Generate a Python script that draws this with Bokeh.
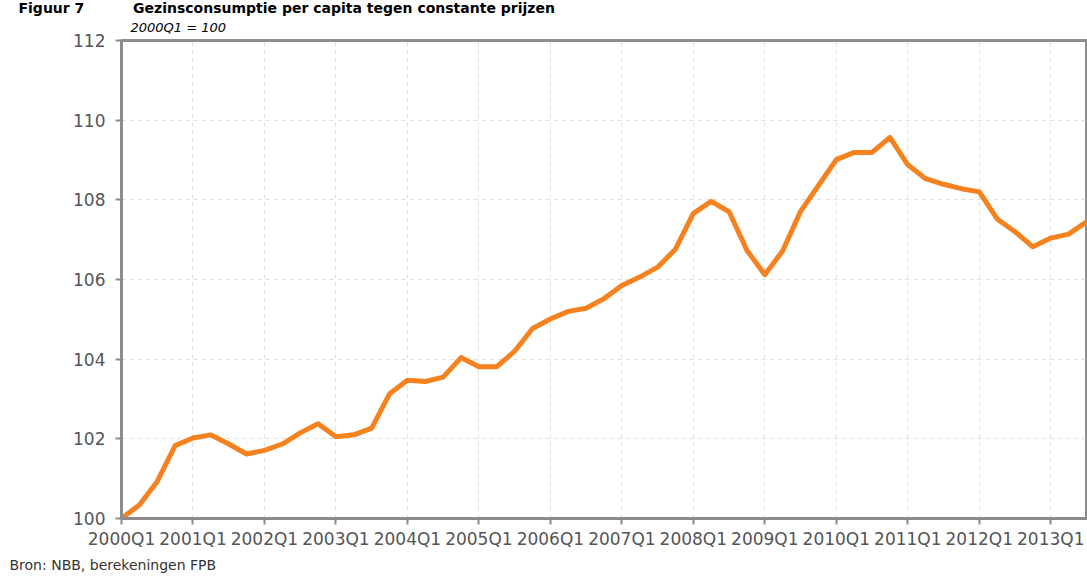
from bokeh.plotting import figure
from bokeh.models import Range1d, FixedTicker, Title
from bokeh.embed import file_html
from bokeh.resources import INLINE

# Quarterly household consumption per capita, constant prices (2000Q1 = 100)
quarters = [f"{y}Q{q}" for y in range(2000, 2014) for q in range(1, 5)][:55]
values = [
    100.00, 100.34, 100.93, 101.83,   # 2000
    102.02, 102.10, 101.87, 101.62,   # 2001
    101.71, 101.87, 102.15, 102.38,   # 2002
    102.05, 102.10, 102.27, 103.13,   # 2003
    103.47, 103.44, 103.55, 104.04,   # 2004
    103.81, 103.81, 104.20, 104.77,   # 2005
    105.01, 105.20, 105.28, 105.52,   # 2006
    105.85, 106.06, 106.31, 106.76,   # 2007
    107.66, 107.96, 107.70, 106.73,   # 2008
    106.12, 106.72, 107.71, 108.36,   # 2009
    109.01, 109.19, 109.19, 109.57,   # 2010
    108.88, 108.53, 108.39, 108.28,   # 2011
    108.20, 107.52, 107.20, 106.82,   # 2012
    107.04, 107.14, 107.45,           # 2013
]
x_idx = list(range(len(values)))
year_tick_pos = [i for i in x_idx if quarters[i].endswith("Q1")]
year_tick_labels = [quarters[i] for i in year_tick_pos]
y_ticks = [100, 102, 104, 106, 108, 110, 112]

title_num = "Figuur 7"
title_text = "Gezinsconsumptie per capita tegen constante prijzen"
subtitle_text = "2000Q1 = 100"
source_text = "Bron: NBB, berekeningen FPB"

FONT = "DejaVu Sans"
AXIS_COLOR = "#8c8c8c"
TEXT_COLOR = "#555555"

p = figure(width=1087, height=576, output_backend="svg", toolbar_location=None,
           x_range=Range1d(0, len(values) - 1), y_range=Range1d(100, 112),
           min_border_left=121, min_border_right=1, min_border_top=40,
           min_border_bottom=58)

p.line(x_idx, values, line_color="#f5821f", line_width=5, line_join="round",
       line_cap="round")

p.outline_line_color = AXIS_COLOR
p.outline_line_width = 3

for ax in (p.xaxis[0], p.yaxis[0]):
    ax.axis_line_color = AXIS_COLOR
    ax.axis_line_width = 3
    ax.major_tick_line_color = AXIS_COLOR
    ax.major_tick_line_width = 2
    ax.major_tick_in = 0
    ax.major_tick_out = 6
    ax.minor_tick_line_color = None
    ax.major_label_text_font = FONT
    ax.major_label_text_font_size = "17px"
    ax.major_label_text_color = TEXT_COLOR

p.xaxis.ticker = FixedTicker(ticks=year_tick_pos)
p.xaxis.major_label_overrides = {pos: lab for pos, lab in zip(year_tick_pos, year_tick_labels)}
p.xaxis.major_label_standoff = 4
p.yaxis.ticker = FixedTicker(ticks=y_ticks)
p.yaxis.major_label_standoff = 10

p.grid.grid_line_color = "#dedede"
p.grid.grid_line_dash = "4 4"
p.grid.grid_line_width = 1

# titles (stacked above the frame, nearest first) and source (below)
p.add_layout(Title(text=subtitle_text, align="left", offset=9, standoff=12,
                   text_font=FONT, text_font_style="italic", text_font_size="13px",
                   text_color="#000000"), "above")
p.add_layout(Title(text=title_num + "\u00a0" * 10 + title_text, align="left", offset=-103,
                   standoff=-8, text_font=FONT, text_font_style="bold",
                   text_font_size="14px", text_color="#000000"), "above")
p.add_layout(Title(text=source_text, align="left", offset=-112, standoff=6,
                   text_font=FONT, text_font_style="normal", text_font_size="14px",
                   text_color="#333333"), "below")

open("out.html", "w").write(file_html(p, INLINE))
